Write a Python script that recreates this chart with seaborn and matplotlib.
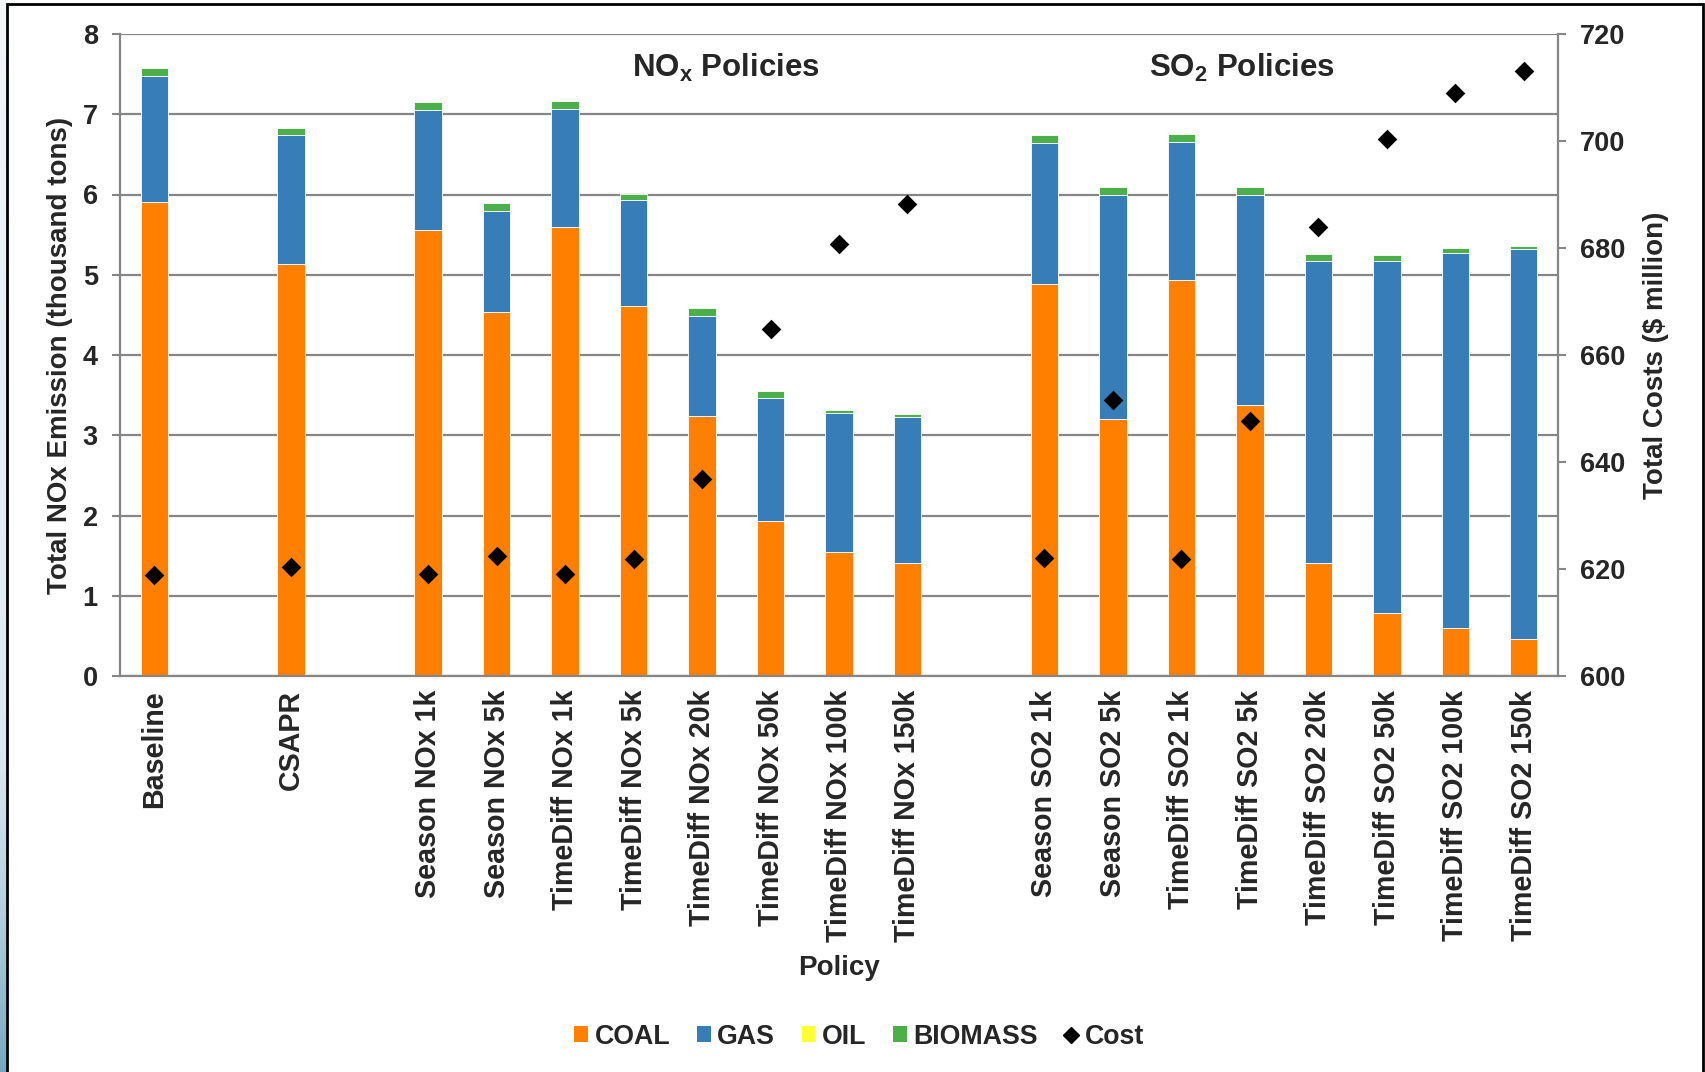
import numpy as np
import matplotlib
matplotlib.use("Agg")
import matplotlib.pyplot as plt
import seaborn as sns
from matplotlib.patches import Patch, Rectangle
from matplotlib.lines import Line2D
from matplotlib.colors import LinearSegmentedColormap

# x categories ('' = empty slot between groups)
policies = ["Baseline", "", "CSAPR", "",
            "Season NOx 1k", "Season NOx 5k", "TimeDiff NOx 1k", "TimeDiff NOx 5k",
            "TimeDiff NOx 20k", "TimeDiff NOx 50k", "TimeDiff NOx 100k", "TimeDiff NOx 150k",
            "",
            "Season SO2 1k", "Season SO2 5k", "TimeDiff SO2 1k", "TimeDiff SO2 5k",
            "TimeDiff SO2 20k", "TimeDiff SO2 50k", "TimeDiff SO2 100k", "TimeDiff SO2 150k"]

# emissions by fuel (thousand tons), one value per non-empty policy
coal = [5.91, 5.14, 5.56, 4.53, 5.59, 4.61, 3.24, 1.93, 1.55, 1.41,
        4.89, 3.20, 4.94, 3.38, 1.41, 0.79, 0.60, 0.46]
gas = [1.57, 1.60, 1.49, 1.27, 1.47, 1.32, 1.25, 1.54, 1.73, 1.82,
       1.75, 2.79, 1.72, 2.61, 3.76, 4.38, 4.67, 4.86]
oil = [0.0] * 18
biomass = [0.10, 0.09, 0.10, 0.10, 0.10, 0.08, 0.09, 0.08, 0.04, 0.04,
           0.10, 0.10, 0.09, 0.10, 0.09, 0.08, 0.06, 0.04]
# total cost ($ million)
cost = [618.9, 620.3, 619.1, 622.4, 619.1, 621.8, 636.8, 664.9, 680.7, 688.3,
        622.0, 651.5, 621.8, 647.6, 684.0, 700.3, 709.0, 713.1]

fuels = ["COAL", "GAS", "OIL", "BIOMASS"]
colors = ["#FF7F00", "#377EB8", "#FFFF33", "#4DAF4A"]
GRAY = "#868686"

sns.set_theme(style="white")
plt.rcParams["font.family"] = ["Liberation Sans", "DejaVu Sans"]
plt.rcParams["font.weight"] = "bold"
plt.rcParams["axes.labelweight"] = "bold"
plt.rcParams["mathtext.fontset"] = "custom"
plt.rcParams["mathtext.rm"] = "Liberation Sans"
plt.rcParams["mathtext.bf"] = "Liberation Sans:bold"

pos = [i for i, p in enumerate(policies) if p]
order = list(range(len(policies)))

fig = plt.figure(figsize=(17.05, 10.72), dpi=100)
ax = fig.add_axes([120 / 1705, 1 - 676 / 1072, 1438 / 1705, 642 / 1072])

# stacked bars: one barplot call per fuel, stacked with bottom=
bottom = np.zeros(len(pos))
for name, vals, col in zip(fuels, [coal, gas, oil, biomass], colors):
    sns.barplot(x=pos, y=vals, order=order, color=col, width=0.4, errorbar=None,
                bottom=bottom.copy(), edgecolor="white", linewidth=0.6, ax=ax,
                saturation=1)
    bottom += np.array(vals)

ax.set_ylim(0, 8)
ax.set_yticks(range(9))
ax.set_xlim(-0.5, len(policies) - 0.5)
ax.set_xticks(order)
ax.set_xticklabels(policies, rotation=90, fontsize=20.6, fontweight="bold")
ax.set_xticks(np.arange(-0.5, len(policies), 1), minor=True)
ax.tick_params(axis="x", which="major", length=0, pad=10)
ax.tick_params(axis="x", which="minor", length=6, width=1.5, color=GRAY)
ax.tick_params(axis="y", length=6, width=1.5, color=GRAY, pad=10, labelsize=19.5)
ax.yaxis.grid(True, color=GRAY, linewidth=1.6)
ax.set_axisbelow(True)
for s in ["top", "right"]:
    ax.spines[s].set_visible(False)
for s in ["left", "bottom"]:
    ax.spines[s].set_color(GRAY)
    ax.spines[s].set_linewidth(1.6)

ax.set_ylabel("Total NOx Emission (thousand tons)", fontsize=20)
ax.yaxis.set_label_coords(-0.033, 0.5)
ax.set_xlabel("Policy", fontsize=20)
ax.xaxis.set_label_coords(0.5, -0.435)

ax.text(0.4214, 0.933, r"NO$_\mathbf{x}$ Policies", transform=ax.transAxes,
        ha="center", va="baseline", fontsize=22.5, fontweight="bold")
ax.text(0.780, 0.933, r"SO$_\mathbf{2}$ Policies", transform=ax.transAxes,
        ha="center", va="baseline", fontsize=22.5, fontweight="bold")

# cost on the secondary axis
ax2 = ax.twinx()
sns.scatterplot(x=pos, y=cost, marker="D", s=100, color="black", linewidth=0,
                ax=ax2, zorder=3)
ax2.set_ylim(600, 720)
ax2.set_yticks(range(600, 721, 20))
ax2.tick_params(axis="y", length=6, width=1.5, color=GRAY, pad=10, labelsize=19.5)
for s in ["top", "left", "bottom"]:
    ax2.spines[s].set_visible(False)
ax2.spines["right"].set_color(GRAY)
ax2.spines["right"].set_linewidth(1.6)
ax2.set_ylabel(r"Total Costs (\$ million)", fontsize=20)
ax2.yaxis.set_label_coords(1.059, 0.5)

handles = [Patch(facecolor=c, edgecolor="none") for c in colors]
handles.append(Line2D([], [], marker="D", color="black", linestyle="none", markersize=8))
fig.legend(handles, fuels + ["Cost"], loc="center", bbox_to_anchor=(0.504, 0.033),
           ncol=5, frameon=False, fontsize=19.3, handlelength=0.5, handleheight=0.5,
           handletextpad=0.25, columnspacing=1.0)

# outer frame and the blue strip on the left edge
fig.add_artist(Rectangle((7 / 1705, -0.01), 1696 / 1705, 1.0063, transform=fig.transFigure,
                         fill=False, edgecolor="black", linewidth=2))
strip = fig.add_axes([0, 0, 6 / 1705, 1])
cmap = LinearSegmentedColormap.from_list(
    "strip", [(0, "#f2f6f9"), (0.7, "#dce8ef"), (0.85, "#b5d0dd"), (1, "#78a8c0")])
strip.imshow(np.linspace(0, 1, 256)[:, None], cmap=cmap, aspect="auto")
strip.axis("off")

fig.savefig("out.png", dpi=100)
